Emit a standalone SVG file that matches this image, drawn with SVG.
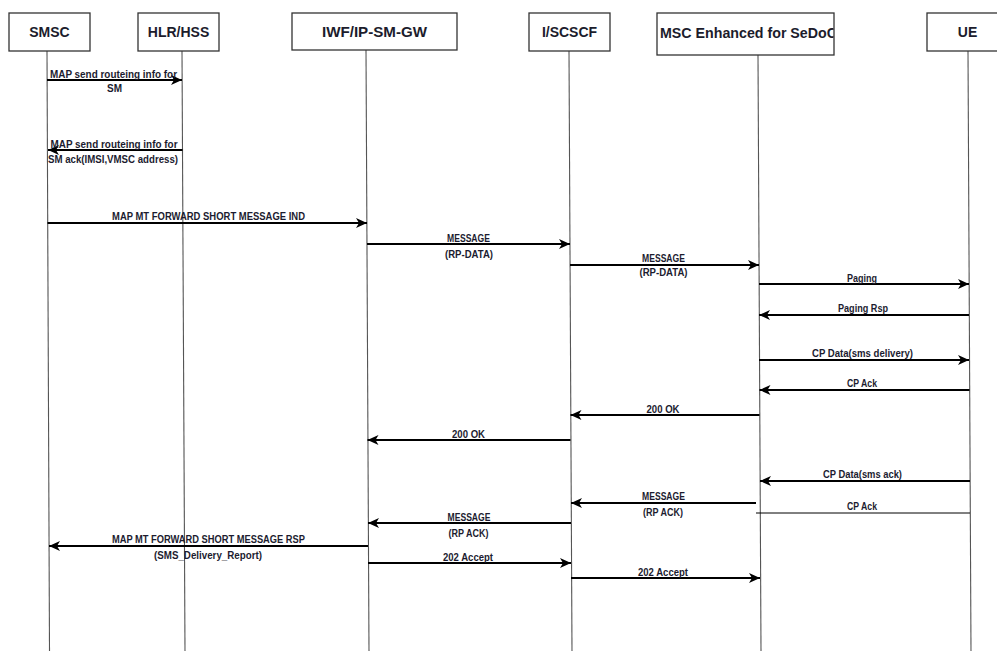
<svg xmlns="http://www.w3.org/2000/svg" width="997" height="651" viewBox="0 0 997 651">
<style>
.box{fill:#fff;stroke:#333;stroke-width:1.3}
.hdr{font-family:"Liberation Sans",Arial,sans-serif;font-weight:bold;font-size:14px;fill:#1c1c2c;text-anchor:middle}
.life{stroke:#555;stroke-width:1.1;fill:none}
.msg{stroke:#000;stroke-width:2;fill:none}
.thin{stroke:#000;stroke-width:1;fill:none}
.lbl{font-family:"Liberation Sans",Arial,sans-serif;font-weight:bold;font-size:10px;fill:#1c1c30;text-anchor:middle}
</style>
<defs>
<marker id="ah" markerUnits="userSpaceOnUse" markerWidth="12" markerHeight="12" viewBox="0 0 12 12" refX="11" refY="6" orient="auto">
<path d="M0,1 L11,6 L0,11 L3,6 Z" fill="#000"/>
</marker>
<clipPath id="mscclip"><rect x="657" y="13" width="176.5" height="42"/></clipPath>
</defs>
<rect width="997" height="651" fill="#fff"/>
<g id="lifelines">
<line class="life" x1="47" y1="51" x2="49.5" y2="651"/>
<line class="life" x1="182" y1="51" x2="185" y2="651"/>
<line class="life" x1="366" y1="50" x2="369" y2="651"/>
<line class="life" x1="569" y1="51" x2="572" y2="651"/>
<line class="life" x1="758" y1="55" x2="761" y2="651"/>
<line class="life" x1="968" y1="51" x2="971" y2="651"/>
</g>
<g id="SMSC"><rect class="box" x="9" y="13" width="81" height="38"/><text class="hdr" x="49.5" y="37">SMSC</text></g>
<g id="HLR"><rect class="box" x="138" y="13" width="81" height="38"/><text class="hdr" x="178.5" y="37">HLR/HSS</text></g>
<g id="IWF"><rect class="box" x="292" y="13" width="165" height="37"/><text class="hdr" x="374.5" y="37" textLength="105" lengthAdjust="spacingAndGlyphs">IWF/IP-SM-GW</text></g>
<g id="ISCSCF"><rect class="box" x="529" y="13" width="81" height="38"/><text class="hdr" x="569.5" y="37">I/SCSCF</text></g>
<g id="MSC"><rect class="box" x="657" y="13" width="177" height="42"/><text class="hdr" x="660" y="38" style="text-anchor:start" textLength="177" lengthAdjust="spacingAndGlyphs" clip-path="url(#mscclip)">MSC Enhanced for SeDoC</text></g>
<g id="UE"><rect class="box" x="927" y="13" width="90" height="38"/><text class="hdr" x="967.5" y="37">UE</text></g>
<g id="connectors">
<line class="msg" x1="47" y1="80" x2="182" y2="80" marker-end="url(#ah)"/>
<line class="msg" x1="182.5" y1="150" x2="48" y2="150" marker-end="url(#ah)"/>
<line class="msg" x1="47.5" y1="223" x2="367" y2="223" marker-end="url(#ah)"/>
<line class="msg" x1="367" y1="244" x2="570" y2="244" marker-end="url(#ah)"/>
<line class="msg" x1="570" y1="265" x2="759" y2="265" marker-end="url(#ah)"/>
<line class="msg" x1="759" y1="284" x2="969" y2="284" marker-end="url(#ah)"/>
<line class="msg" x1="969" y1="315" x2="759" y2="315" marker-end="url(#ah)"/>
<line class="msg" x1="759" y1="360" x2="969" y2="360" marker-end="url(#ah)"/>
<line class="msg" x1="969.5" y1="390" x2="759.5" y2="390" marker-end="url(#ah)"/>
<line class="msg" x1="759.5" y1="415" x2="570.5" y2="415" marker-end="url(#ah)"/>
<line class="msg" x1="570.5" y1="440" x2="367.5" y2="440" marker-end="url(#ah)"/>
<line class="msg" x1="970" y1="481" x2="760" y2="481" marker-end="url(#ah)"/>
<line class="msg" x1="756" y1="503" x2="571" y2="503" marker-end="url(#ah)"/>
<line class="thin" x1="756" y1="513" x2="970" y2="513"/>
<line class="msg" x1="571" y1="523" x2="368" y2="523" marker-end="url(#ah)"/>
<line class="msg" x1="368" y1="546" x2="49" y2="546" marker-end="url(#ah)"/>
<line class="msg" x1="368" y1="563" x2="571" y2="563" marker-end="url(#ah)"/>
<line class="msg" x1="571" y1="578" x2="760" y2="578" marker-end="url(#ah)"/>
</g>
<g id="labels">
<text class="lbl" x="113.5" y="77.5" textLength="127" lengthAdjust="spacingAndGlyphs">MAP send routeing info for</text>
<text class="lbl" x="114.5" y="91.5" textLength="15" lengthAdjust="spacingAndGlyphs">SM</text>
<text class="lbl" x="114" y="147.5" textLength="127" lengthAdjust="spacingAndGlyphs">MAP send routeing info for</text>
<text class="lbl" x="113" y="162.5" textLength="130" lengthAdjust="spacingAndGlyphs">SM ack(IMSI,VMSC address)</text>
<text class="lbl" x="208.5" y="219.5" textLength="193" lengthAdjust="spacingAndGlyphs">MAP MT FORWARD SHORT MESSAGE IND</text>
<text class="lbl" x="468.5" y="241.5" textLength="43" lengthAdjust="spacingAndGlyphs">MESSAGE</text>
<text class="lbl" x="469" y="257.5" textLength="48" lengthAdjust="spacingAndGlyphs">(RP-DATA)</text>
<text class="lbl" x="663.5" y="261.5" textLength="43" lengthAdjust="spacingAndGlyphs">MESSAGE</text>
<text class="lbl" x="663.5" y="275.5" textLength="48" lengthAdjust="spacingAndGlyphs">(RP-DATA)</text>
<text class="lbl" x="862" y="281.5" textLength="30" lengthAdjust="spacingAndGlyphs">Paging</text>
<text class="lbl" x="863" y="311.5" textLength="50" lengthAdjust="spacingAndGlyphs">Paging Rsp</text>
<text class="lbl" x="862.5" y="356.5" textLength="101" lengthAdjust="spacingAndGlyphs">CP Data(sms delivery)</text>
<text class="lbl" x="862" y="386.5" textLength="30" lengthAdjust="spacingAndGlyphs">CP Ack</text>
<text class="lbl" x="663" y="412.5" textLength="33" lengthAdjust="spacingAndGlyphs">200 OK</text>
<text class="lbl" x="468.5" y="437.5" textLength="33" lengthAdjust="spacingAndGlyphs">200 OK</text>
<text class="lbl" x="862.5" y="477.5" textLength="79" lengthAdjust="spacingAndGlyphs">CP Data(sms ack)</text>
<text class="lbl" x="862" y="509.5" textLength="30" lengthAdjust="spacingAndGlyphs">CP Ack</text>
<text class="lbl" x="663.5" y="499.5" textLength="43" lengthAdjust="spacingAndGlyphs">MESSAGE</text>
<text class="lbl" x="663" y="515.5" textLength="40" lengthAdjust="spacingAndGlyphs">(RP ACK)</text>
<text class="lbl" x="469" y="520.5" textLength="43" lengthAdjust="spacingAndGlyphs">MESSAGE</text>
<text class="lbl" x="468.5" y="536.5" textLength="40" lengthAdjust="spacingAndGlyphs">(RP ACK)</text>
<text class="lbl" x="208.5" y="542.5" textLength="193" lengthAdjust="spacingAndGlyphs">MAP MT FORWARD SHORT MESSAGE RSP</text>
<text class="lbl" x="208" y="558.5" textLength="108" lengthAdjust="spacingAndGlyphs">(SMS_Delivery_Report)</text>
<text class="lbl" x="468" y="560.5" textLength="50" lengthAdjust="spacingAndGlyphs">202 Accept</text>
<text class="lbl" x="663" y="575.5" textLength="50" lengthAdjust="spacingAndGlyphs">202 Accept</text>
</g>
</svg>
